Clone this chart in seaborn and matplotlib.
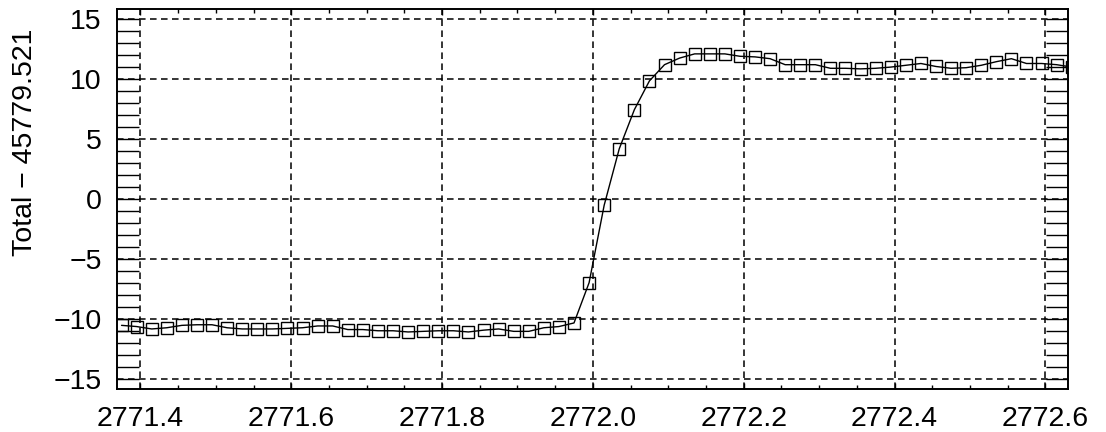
import numpy as np
import pandas as pd
import matplotlib
matplotlib.use("Agg")
import matplotlib.pyplot as plt
from matplotlib.ticker import MultipleLocator
import seaborn as sns

# Sample positions (evenly spaced scan) and offset totals
x_start = 2771.375
x_step = 0.02
total_offset = [
    -10.5, -10.6, -10.8, -10.7, -10.5, -10.45, -10.45, -10.7,
    -10.8, -10.8, -10.8, -10.75, -10.7, -10.55, -10.55, -10.85,
    -10.85, -10.95, -10.95, -11.05, -11.0, -10.95, -10.95, -11.05,
    -10.9, -10.8, -11.0, -11.0, -10.7, -10.6, -10.3, -6.95,
    -0.5, 4.2, 7.45, 9.85, 11.2, 11.75, 12.1, 12.1,
    12.1, 11.9, 11.85, 11.7, 11.2, 11.2, 11.2, 10.9,
    10.9, 10.85, 10.9, 11.0, 11.15, 11.3, 11.05, 10.9,
    10.95, 11.15, 11.45, 11.7, 11.3, 11.3, 11.2, 11.0,
]
position = x_start + x_step * np.arange(len(total_offset))

x_ticks = [2771.4, 2771.6, 2771.8, 2772.0, 2772.2, 2772.4, 2772.6]
x_tick_labels = ["2771.4", "2771.6", "2771.8", "2772.0", "2772.2", "2772.4", "2772.6"]
y_ticks = [-15, -10, -5, 0, 5, 10, 15]
y_label = "Total \u2212 45779.521"

df = pd.DataFrame({"position": position, "total": total_offset})

sns.set_theme(style="ticks")
plt.rcParams["font.family"] = ["Liberation Sans", "DejaVu Sans"]

fig = plt.figure(figsize=(11.06, 4.32), dpi=100)
ax = fig.add_axes([0.1058, 0.0995, 0.8598, 0.8795])

sns.lineplot(
    data=df, x="position", y="total", ax=ax,
    color="black", linewidth=1.0, marker="s", markersize=9.2,
    markerfacecolor="none", markeredgecolor="black", markeredgewidth=1.0,
    sort=False,
)

ax.set_xlim(2771.369, 2772.630)
ax.set_ylim(-15.8, 15.83)

ax.set_xticks(x_ticks)
ax.set_xticklabels(x_tick_labels)
ax.set_yticks(y_ticks)
ax.xaxis.set_minor_locator(MultipleLocator(0.05))
ax.yaxis.set_minor_locator(MultipleLocator(1))

ax.tick_params(axis="both", which="both", direction="in", colors="black",
               top=True, right=True, labelsize=20.5)
ax.tick_params(axis="x", which="major", length=4, width=1, pad=12)
ax.tick_params(axis="x", which="minor", length=3, width=1)
ax.tick_params(axis="y", which="major", length=16, width=1, pad=11)
ax.tick_params(axis="y", which="minor", length=16, width=1)

ax.grid(True, which="major", color="black", linestyle=(0, (4.3, 2.9)), linewidth=1.1)

for sp in ax.spines.values():
    sp.set_color("black")
    sp.set_linewidth(1.4)

ax.set_xlabel("")
ax.set_ylabel(y_label, fontsize=20.5, color="black")
ax.yaxis.set_label_coords(-0.083, 0.65)

fig.savefig("out.png", dpi=100, facecolor="white")
